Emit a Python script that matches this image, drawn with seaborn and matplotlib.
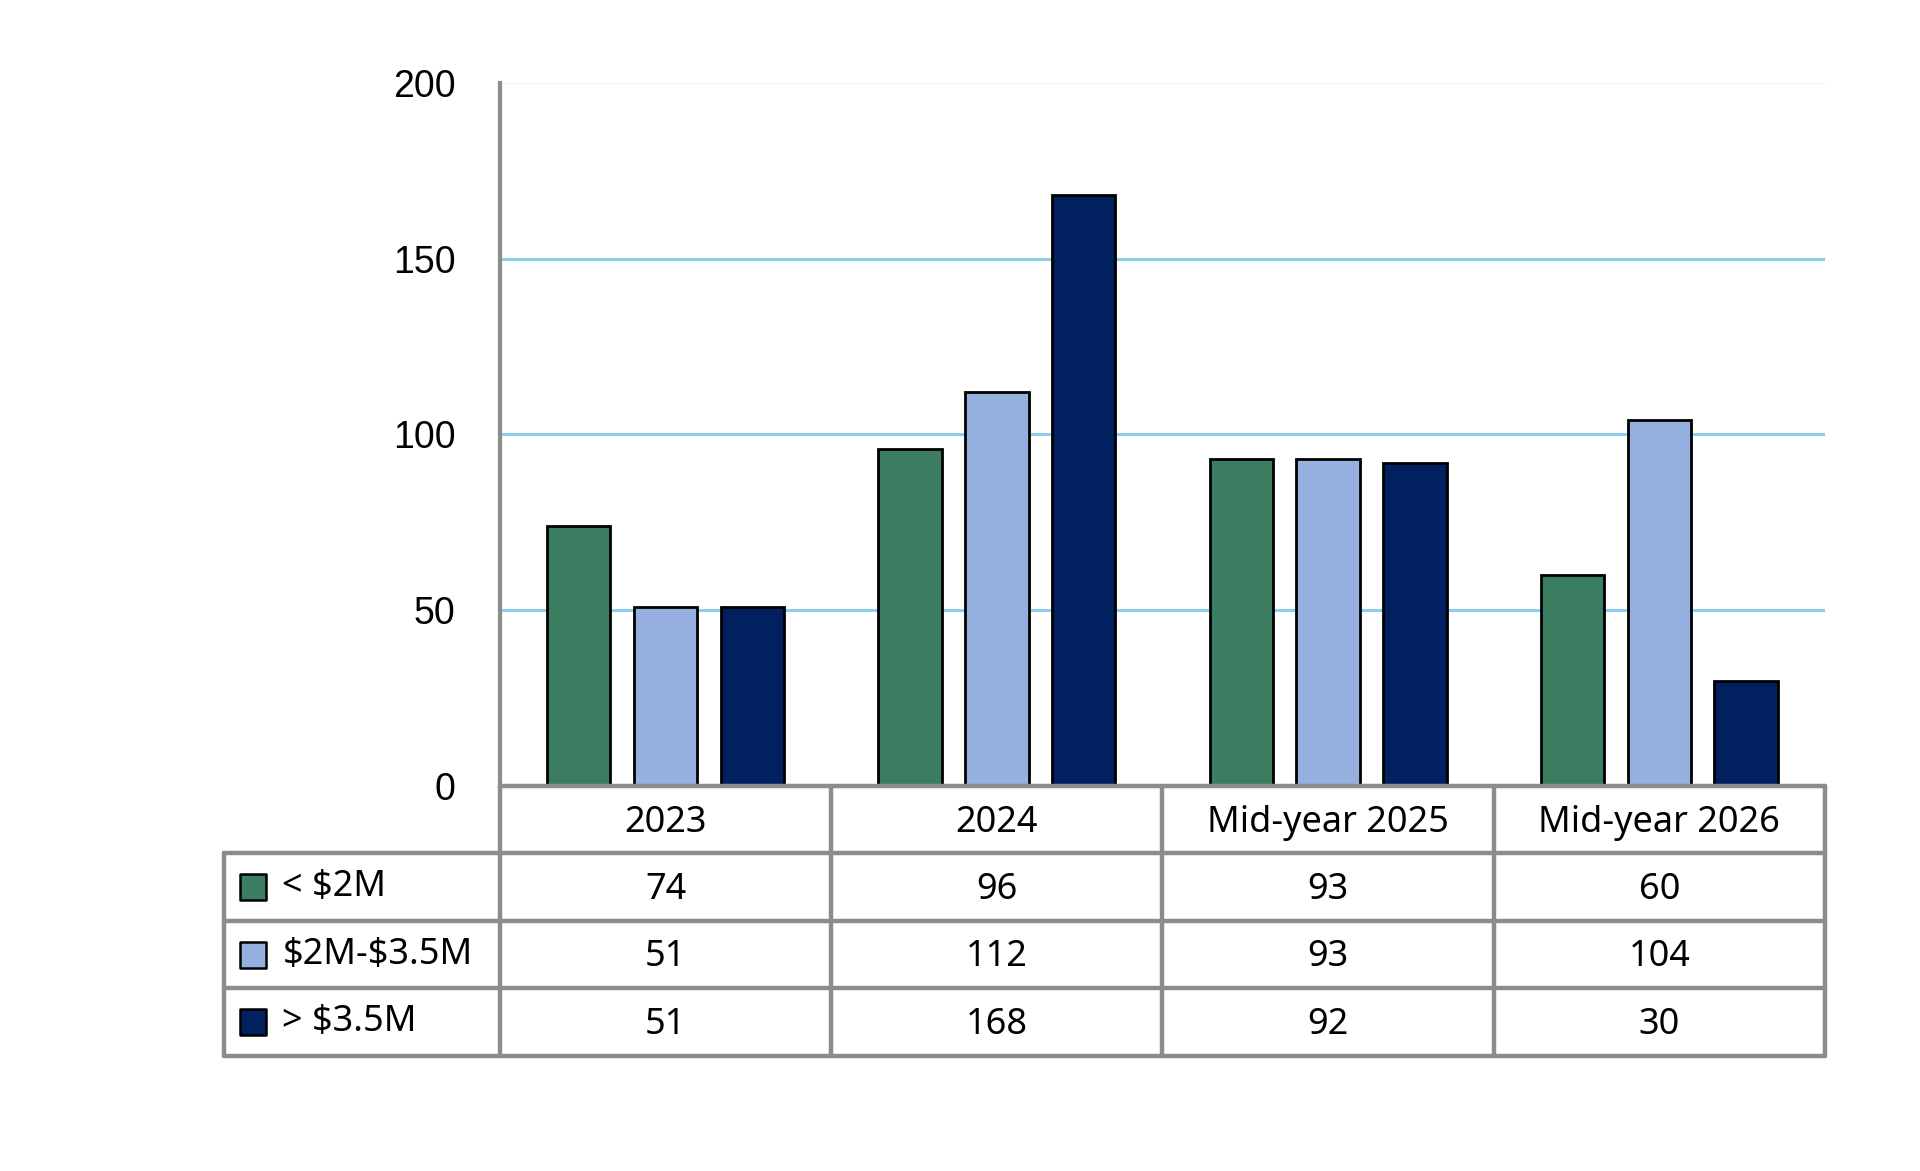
import pandas as pd
import matplotlib.pyplot as plt
import seaborn as sns

# chart data
periods = ["2023", "2024", "Mid-year 2025", "Mid-year 2026"]
bands = ["< $2M", "$2M-$3.5M", "> $3.5M"]
under_2m = [74, 96, 93, 60]
mid_2m_35m = [51, 112, 93, 104]
over_35m = [51, 168, 92, 30]
band_colors = ["#3B7D60", "#95B0DE", "#00205F"]

df = pd.DataFrame({
    "period": periods * 3,
    "band": [bands[0]] * 4 + [bands[1]] * 4 + [bands[2]] * 4,
    "count": under_2m + mid_2m_35m + over_35m,
})

sns.set_style("white")
plt.rcParams['font.family'] = ['Liberation Sans', 'DejaVu Sans']
plt.rcParams['text.color'] = 'black'
plt.rcParams['ytick.color'] = 'black'
plt.rcParams['text.parse_math'] = False

fig = plt.figure(figsize=(19.2, 11.71), dpi=100)
ax = fig.add_axes([0.2604, 0.3288, 0.6901, 0.6003])

sns.barplot(data=df, x="period", y="count", hue="band", order=periods,
            hue_order=bands, palette=band_colors, saturation=1, width=0.786,
            gap=0.27, edgecolor="black", linewidth=2, legend=False, ax=ax,
            zorder=3)

ax.set_xlim(-0.5, 3.5)
ax.set_ylim(0, 200)
ax.set_yticks([0, 50, 100, 150, 200])
ax.set_yticklabels(["0", "50", "100", "150", "200"], fontsize=27)
ax.tick_params(axis="y", length=0, pad=32, colors="black")
ax.set_xticks([])
ax.set_xlabel("")
ax.set_ylabel("")

# gridlines
for yv in [50, 100, 150]:
    ax.axhline(yv, color="#8DCDEE", lw=2.2, zorder=1)
ax.axhline(200, color="#EAF6FC", lw=1.5, zorder=1)

for s in ["top", "right", "bottom"]:
    ax.spines[s].set_visible(False)
ax.spines["left"].set_color("#8C8C8C")
ax.spines["left"].set_linewidth(3)

# data table under the plot
grey = "#8C8C8C"
tr = ax.transAxes
row_y = [0, -0.096, -0.192, -0.288, -0.384]
leg_x = -0.2083
col_x = [0, 0.25, 0.5, 0.75, 1.0]

ax.plot([0, 1], [0, 0], color=grey, lw=3.2, transform=tr, clip_on=False, zorder=5)
for yv in row_y[1:]:
    ax.plot([leg_x, 1], [yv, yv], color=grey, lw=3.2, transform=tr, clip_on=False)
for xv in col_x:
    ax.plot([xv, xv], [0, row_y[-1]], color=grey, lw=3.2, transform=tr, clip_on=False)
ax.plot([leg_x, leg_x], [row_y[1], row_y[-1]], color=grey, lw=3.2, transform=tr, clip_on=False)

table_font = ['Noto Sans', 'DejaVu Sans']
for i, p in enumerate(periods):
    ax.text(0.125 + 0.25 * i, (row_y[0] + row_y[1]) / 2 - 0.004, p, transform=tr,
            ha="center", va="center", fontsize=26, family=table_font)

values = [under_2m, mid_2m_35m, over_35m]
for r, (name, vals, c) in enumerate(zip(bands, values, band_colors)):
    yc = (row_y[r + 1] + row_y[r + 2]) / 2 - 0.004
    ax.scatter([leg_x + 0.0217], [yc + 0.004], marker="s", s=340, color=c,
               edgecolor="black", linewidth=1.8, transform=tr, clip_on=False)
    ax.text(leg_x + 0.044, yc + 0.004, name, transform=tr, ha="left", va="center",
            fontsize=26, family=table_font)
    for i, v in enumerate(vals):
        ax.text(0.125 + 0.25 * i, yc, str(v), transform=tr, ha="center",
                va="center", fontsize=26, family=table_font)

fig.savefig("out.png", dpi=100)
